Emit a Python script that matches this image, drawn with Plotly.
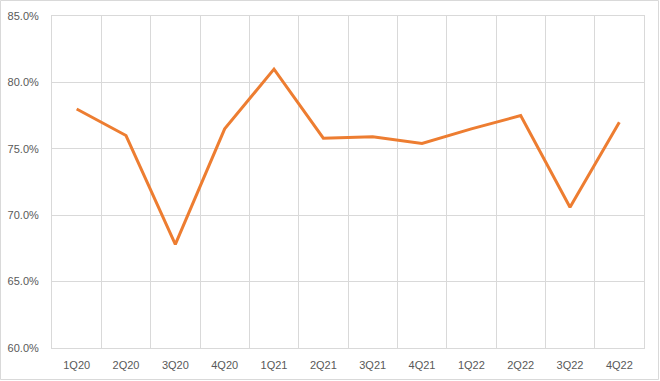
import plotly.graph_objects as go

quarters = ["1Q20", "2Q20", "3Q20", "4Q20", "1Q21", "2Q21", "3Q21", "4Q21",
            "1Q22", "2Q22", "3Q22", "4Q22"]
values = [78.0, 76.0, 67.8, 76.5, 81.0, 75.8, 75.9, 75.4, 76.5, 77.5, 70.6, 77.0]
y_ticks = [60, 65, 70, 75, 80, 85]
y_tick_labels = [f"{v:.1f}%" for v in y_ticks]

grid = "#D9D9D9"
txt = "#595959"

fig = go.Figure(go.Scatter(
    x=quarters, y=values, mode="lines",
    line=dict(color="#ED7D31", width=3),
    hoverinfo="skip",
))

W, H = 660, 381
L, R, T, B = 52, 16, 16, 33
pw, ph = W - L - R, H - T - B

fig.update_layout(
    width=W, height=H,
    margin=dict(l=L, r=R, t=T, b=B),
    paper_bgcolor="white", plot_bgcolor="white",
    showlegend=False,
    font=dict(family="Liberation Sans, Arial, sans-serif", size=11, color=txt),
    xaxis=dict(
        type="category", tickson="boundaries", automargin=False,
        showgrid=True, gridcolor=grid, gridwidth=1,
        showline=True, linecolor=grid, linewidth=1, mirror=True,
        ticks="", ticklabelstandoff=7, zeroline=False,
        range=[-0.5, len(quarters) - 0.5],
        fixedrange=True,
    ),
    yaxis=dict(
        range=[60, 85], tickvals=y_ticks, ticktext=y_tick_labels,
        automargin=False,
        showgrid=True, gridcolor=grid, gridwidth=1,
        showline=True, linecolor=grid, linewidth=1, mirror=True,
        ticks="", ticklabelstandoff=10, zeroline=False,
        fixedrange=True,
    ),
    shapes=[dict(
        type="rect", xref="paper", yref="paper",
        x0=-(L - 0.5) / pw, x1=1 + (R - 1.5) / pw,
        y0=-(B - 1.5) / ph, y1=1 + (T - 0.5) / ph,
        line=dict(color=grid, width=1), layer="below",
    )],
)

fig.write_html("out.html")
